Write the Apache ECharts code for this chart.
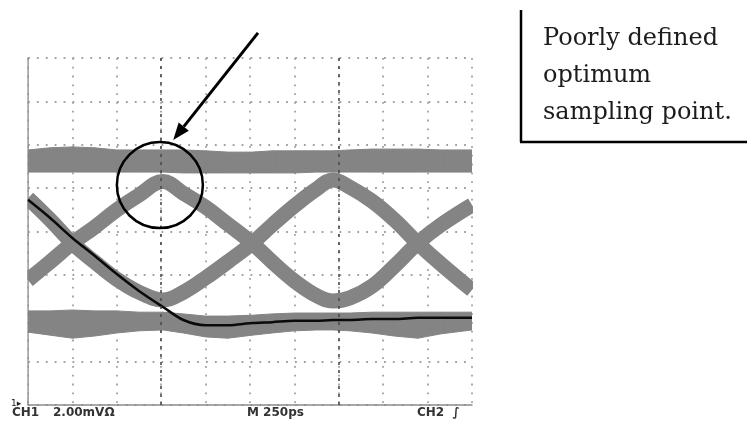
<!DOCTYPE html>
<html><head><meta charset="utf-8">
<script src="https://cdn.jsdelivr.net/npm/echarts/dist/echarts.min.js"></script>
<style>html,body{margin:0;padding:0;background:#fff}#c{width:747px;height:422px}</style>
</head><body><div id="c"></div>
<script>
// time position in screen divisions (10 divisions across)
const xDiv = [0, 0.5, 1.0, 1.5, 2.0, 2.5, 3.04, 3.5, 4.0, 4.5, 5.05, 5.5, 6.0, 6.5, 6.87, 7.25, 7.75, 8.25, 8.78, 9.3, 10];
// upper ("1") level band edges, in vertical divisions (8 divisions tall)
const upperTop    = [5.88, 5.93, 5.95, 5.93, 5.88, 5.88, 5.88, 5.88, 5.86, 5.83, 5.83, 5.86, 5.86, 5.86, 5.86, 5.88, 5.90, 5.90, 5.90, 5.88, 5.88];
const upperBottom = [5.37, 5.37, 5.37, 5.37, 5.37, 5.37, 5.37, 5.35, 5.35, 5.35, 5.35, 5.35, 5.35, 5.37, 5.37, 5.37, 5.37, 5.37, 5.37, 5.37, 5.37];
// lower ("0") level band edges
const lowerTop    = [2.17, 2.17, 2.19, 2.17, 2.17, 2.14, 2.14, 2.10, 2.05, 2.05, 2.07, 2.10, 2.12, 2.12, 2.12, 2.12, 2.14, 2.14, 2.14, 2.14, 2.14];
const lowerBottom = [1.68, 1.61, 1.54, 1.59, 1.66, 1.71, 1.73, 1.66, 1.57, 1.54, 1.61, 1.66, 1.71, 1.73, 1.73, 1.71, 1.66, 1.59, 1.54, 1.64, 1.73];
// the two transition traces forming the eye crossings
const edgeA = [2.88, 3.30, 3.73, 4.10, 4.50, 4.84, 5.15, 4.88, 4.56, 4.17, 3.73, 3.30, 2.86, 2.52, 2.40, 2.47, 2.74, 3.20, 3.73, 4.15, 4.61];
const edgeB = [4.77, 4.27, 3.73, 3.30, 2.90, 2.60, 2.42, 2.60, 2.93, 3.30, 3.73, 4.15, 4.59, 4.98, 5.19, 5.02, 4.70, 4.27, 3.73, 3.25, 2.65];
// single black acquisition trace
const trace = [4.73, 4.31, 3.85, 3.44, 3.02, 2.63, 2.26, 1.96, 1.84, 1.84, 1.89, 1.91, 1.94, 1.94, 1.96, 1.96, 1.98, 1.98, 2.01, 2.01, 2.01];
// cursor lines (divisions)
const cursorX = [3, 7];
// annotation anchors in data units
const circleCenter = [2.97, 5.07];
const arrowFrom = [5.18, 8.58];
const arrowTo = [3.27, 6.11];
// texts
const calloutLines = ['Poorly defined', 'optimum', 'sampling point.'];
const footerLabels = ['CH1', '2.00mV\u03A9', 'M 250ps', 'CH2  \u222B'];

const pair = (ys) => xDiv.map((x, i) => [x, ys[i]]);
const bandRows = (top, bot) => xDiv.map((x, i) => [x, top[i], bot[i]]);

const chart = echarts.init(document.getElementById('c'), null, {renderer: 'canvas'});
const gray = '#848484';
const splitV = {show: true, lineStyle: {color: '#a0a0a0', width: 1.8, type: [1.8, 7.0]}};
const splitH = {show: true, lineStyle: {color: '#a0a0a0', width: 1.8, type: [1.8, 7.1]}};
const base = {type: 'line', symbol: 'none', silent: true, smooth: 0.4, clip: true};

function bandSeries(name, rows) {
  return {
    type: 'custom', name, silent: true, clip: true, data: rows,
    encode: {x: 0, y: [1, 2]},
    renderItem: (params, api) => {
      const i = params.dataIndex;
      if (i >= rows.length - 1) return null;
      const n = rows[i + 1];
      const pts = [
        api.coord([api.value(0), api.value(1)]),
        api.coord([n[0], n[1]]),
        api.coord([n[0], n[2]]),
        api.coord([api.value(0), api.value(2)])
      ];
      return {type: 'polygon', shape: {points: pts}, style: {fill: gray, stroke: gray, lineWidth: 1}};
    }
  };
}

chart.setOption({
  animation: false,
  grid: {left: 28, right: 275, top: 58, bottom: 17},
  xAxis: {type: 'value', min: 0, max: 10, interval: 1,
    axisLine: {show: true, onZero: false, lineStyle: {color: '#8c8c8c', width: 1.5}},
    axisTick: {show: false}, axisLabel: {show: false}, splitLine: splitV},
  yAxis: {type: 'value', min: 0, max: 8, interval: 1,
    axisLine: {show: true, onZero: false, lineStyle: {color: '#8c8c8c', width: 1.5}},
    axisTick: {show: false}, axisLabel: {show: false}, splitLine: splitH},
  series: [
    bandSeries('upperBand', bandRows(upperTop, upperBottom)),
    bandSeries('lowerBand', bandRows(lowerTop, lowerBottom)),
    Object.assign({}, base, {name: 'edgeA', data: pair(edgeA), lineStyle: {color: gray, width: 15, cap: 'butt'}}),
    Object.assign({}, base, {name: 'edgeB', data: pair(edgeB), lineStyle: {color: gray, width: 15, cap: 'butt'}}),
    Object.assign({}, base, {name: 'trace', data: pair(trace), smooth: 0.3, lineStyle: {color: '#0a0a0a', width: 2.5},
      markLine: {silent: true, symbol: 'none', label: {show: false},
        lineStyle: {color: '#4a4a4a', width: 1.6, type: [3, 5]},
        data: cursorX.map(v => ({xAxis: v}))}})
  ]
});

const P = (d) => chart.convertToPixel({gridIndex: 0}, d);
const g0 = P([0, 8]), g1 = P([10, 0]);
const cc = P(circleCenter);
const a0 = P(arrowFrom), a1 = P(arrowTo);
const dx = a1[0] - a0[0], dy = a1[1] - a0[1], L = Math.hypot(dx, dy);
const ux = dx / L, uy = dy / L, nx = -uy, ny = ux;
const hl = 17, hw = 6.5;
const hb = [a1[0] - ux * hl, a1[1] - uy * hl];

const graphics = [
  // mask the thick trace ends that spill past the graticule edges
  {type: 'rect', shape: {x: 0, y: g0[1] - 2, width: g0[0] - 0.8, height: g1[1] - g0[1] - 6}, style: {fill: '#fff'}, z: 50},
  {type: 'rect', shape: {x: g1[0] + 1, y: g0[1] - 2, width: 30, height: g1[1] - g0[1] - 6}, style: {fill: '#fff'}, z: 50},
  {type: 'circle', shape: {cx: cc[0], cy: cc[1], r: 43}, style: {fill: 'none', stroke: '#000', lineWidth: 2.5}, z: 100},
  {type: 'line', shape: {x1: a0[0], y1: a0[1], x2: hb[0], y2: hb[1]}, style: {stroke: '#000', lineWidth: 3}, z: 100},
  {type: 'polygon', shape: {points: [a1, [hb[0] + nx * hw, hb[1] + ny * hw], [hb[0] - nx * hw, hb[1] - ny * hw]]}, style: {fill: '#000'}, z: 100},
  {type: 'line', shape: {x1: 521, y1: 10, x2: 521, y2: 142}, style: {stroke: '#000', lineWidth: 2.5}, z: 100},
  {type: 'line', shape: {x1: 520, y1: 142, x2: 747, y2: 142}, style: {stroke: '#000', lineWidth: 2.5}, z: 100},
  {type: 'text', x: 11, y: 404, style: {text: '1\u25B8', font: '9px "DejaVu Sans"', fill: '#222', verticalAlign: 'middle'}, z: 100}
];
calloutLines.forEach((t, i) => {
  graphics.push({type: 'text', x: 543, y: 27 + i * 36.7, style: {text: t, font: '24px "DejaVu Serif"', fill: '#1c1c1c', verticalAlign: 'top'}, z: 100});
});
const footerX = [12, 53, 247, 417];
footerLabels.forEach((t, i) => {
  graphics.push({type: 'text', x: footerX[i], y: 413, style: {text: t, font: 'bold 12px "DejaVu Sans"', fill: '#333', verticalAlign: 'middle'}, z: 100});
});
chart.setOption({graphic: graphics});
</script>
</body></html>
